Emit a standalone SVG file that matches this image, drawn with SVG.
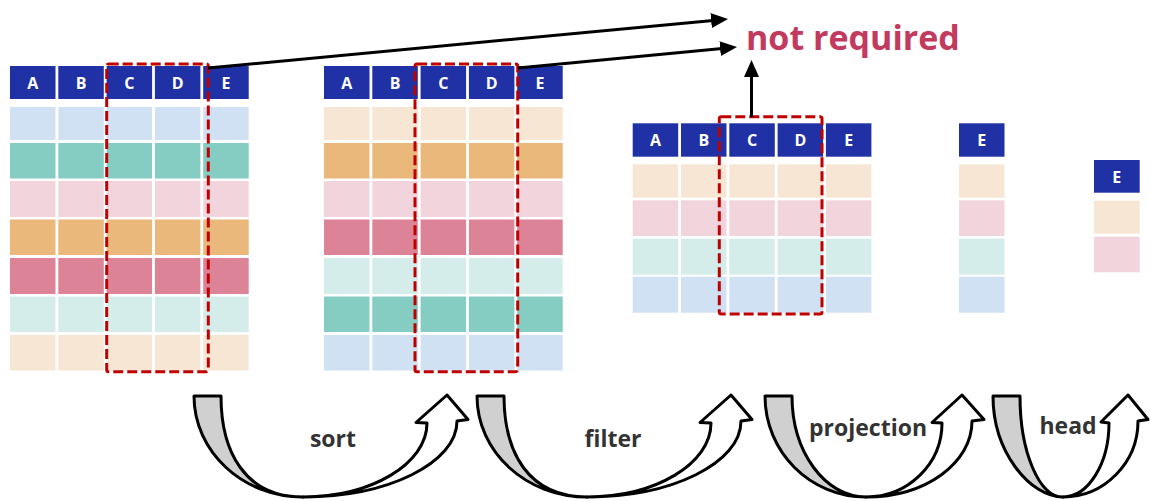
<svg xmlns="http://www.w3.org/2000/svg" width="1150" height="501" viewBox="0 0 1150 501">
<style>
.hd{fill:#1F31A4}
.ht{fill:#ffffff;font-family:"Open Sans","Liberation Sans",sans-serif;font-weight:bold;font-size:16px;text-anchor:middle}
.lb{fill:#D0E1F3}.tl{fill:#85CCC3}.lp{fill:#F2D4DC}.or{fill:#E9B87A}.ro{fill:#DC8398}.lt{fill:#D5EDEA}.pe{fill:#F8E6D4}
.sep{stroke:#ffffff;stroke-width:2.8}
.dash{fill:none;stroke:#C00000;stroke-width:3;stroke-dasharray:10 4}
.conn{stroke:#000000;stroke-width:3;fill:none}
.gray{fill:#D0D0D0;stroke:#000000;stroke-width:3;stroke-linejoin:round}
.white{fill:#ffffff;stroke:#000000;stroke-width:3;stroke-linejoin:round}
.lbl{fill:#333333;font-family:"Open Sans","Liberation Sans",sans-serif;font-weight:bold;font-size:23px;text-anchor:middle}
.nr{fill:#C23A5E;font-family:"Open Sans","Liberation Sans",sans-serif;font-weight:bold;font-size:34px}
</style>
<defs>
<marker id="ah" markerUnits="userSpaceOnUse" markerWidth="17" markerHeight="15" viewBox="0 0 17 15" refX="2" refY="7.5" orient="auto">
<path d="M0,0 L17,7.5 L0,15 Z" fill="#000000"/>
</marker>
</defs>

<!-- Table 1 -->
<g id="table1">
<rect class="hd" x="10" y="66" width="238.7" height="33"/>
<rect class="lb" x="10" y="107" width="238.7" height="33"/>
<rect class="tl" x="10" y="143" width="238.7" height="35.5"/>
<rect class="lp" x="10" y="181" width="238.7" height="36"/>
<rect class="or" x="10" y="219.5" width="238.7" height="35.5"/>
<rect class="ro" x="10" y="258" width="238.7" height="36"/>
<rect class="lt" x="10" y="296.5" width="238.7" height="35.5"/>
<rect class="pe" x="10" y="335" width="238.7" height="35.5"/>
<path class="sep" d="M56.9,60V375M105.2,60V375M153.5,60V375M201.8,60V375"/>
<text class="ht" x="32.75" y="88.5">A</text>
<text class="ht" x="81.05" y="88.5">B</text>
<text class="ht" x="129.35" y="88.5">C</text>
<text class="ht" x="177.65" y="88.5">D</text>
<text class="ht" x="225.95" y="88.5">E</text>
<rect class="dash" x="106.7" y="64" width="101.6" height="307.7" rx="2"/>
</g>

<!-- Table 2 -->
<g id="table2">
<rect class="hd" x="324" y="66" width="238.7" height="33"/>
<rect class="pe" x="324" y="107" width="238.7" height="33"/>
<rect class="or" x="324" y="143" width="238.7" height="35.5"/>
<rect class="lp" x="324" y="181" width="238.7" height="36"/>
<rect class="ro" x="324" y="219.5" width="238.7" height="35.5"/>
<rect class="lt" x="324" y="258" width="238.7" height="36"/>
<rect class="tl" x="324" y="296.5" width="238.7" height="35.5"/>
<rect class="lb" x="324" y="335" width="238.7" height="35.5"/>
<path class="sep" d="M370.9,60V375M419.2,60V375M467.5,60V375M515.8,60V375"/>
<text class="ht" x="346.75" y="88.5">A</text>
<text class="ht" x="395.05" y="88.5">B</text>
<text class="ht" x="443.35" y="88.5">C</text>
<text class="ht" x="491.65" y="88.5">D</text>
<text class="ht" x="539.95" y="88.5">E</text>
<rect class="dash" x="415" y="64" width="102.7" height="307.7" rx="2"/>
</g>

<!-- Table 3 -->
<g id="table3">
<rect class="hd" x="632.7" y="123.3" width="238.7" height="33.4"/>
<rect class="pe" x="632.7" y="164.3" width="238.7" height="33.4"/>
<rect class="lp" x="632.7" y="200.3" width="238.7" height="35.7"/>
<rect class="lt" x="632.7" y="238.7" width="238.7" height="36"/>
<rect class="lb" x="632.7" y="276.7" width="238.7" height="36"/>
<path class="sep" d="M679.6,118V318M727.9,118V318M776.2,118V318M824.5,118V318"/>
<text class="ht" x="655.45" y="146">A</text>
<text class="ht" x="703.75" y="146">B</text>
<text class="ht" x="752.05" y="146">C</text>
<text class="ht" x="800.35" y="146">D</text>
<text class="ht" x="848.65" y="146">E</text>
<rect class="dash" x="719.3" y="116.7" width="102.7" height="197.3" rx="2"/>
</g>

<!-- Table 4 -->
<g id="table4">
<rect class="hd" x="959" y="123.3" width="45.5" height="33.4"/>
<rect class="pe" x="959" y="164.3" width="45.5" height="33.4"/>
<rect class="lp" x="959" y="200.3" width="45.5" height="35.7"/>
<rect class="lt" x="959" y="238.7" width="45.5" height="36"/>
<rect class="lb" x="959" y="276.7" width="45.5" height="36"/>
<text class="ht" x="981.75" y="146">E</text>
</g>

<!-- Table 5 -->
<g id="table5">
<rect class="hd" x="1094" y="160" width="45.7" height="32.7"/>
<rect class="pe" x="1094" y="200.7" width="45.7" height="33"/>
<rect class="lp" x="1094" y="236.7" width="45.7" height="35.6"/>
<text class="ht" x="1116.85" y="182.5">E</text>
</g>

<!-- not required -->
<g id="not-required">
<text class="nr" x="746" y="50">not required</text>
</g>

<!-- Connectors -->
<g id="connectors">
<line class="conn" x1="208" y1="68" x2="713.1" y2="20.4" marker-end="url(#ah)"/>
<line class="conn" x1="518" y1="68" x2="722.1" y2="48.4" marker-end="url(#ah)"/>
<line class="conn" x1="751.5" y1="117" x2="751.5" y2="75" marker-end="url(#ah)"/>
</g>

<!-- Process arrows -->
<g id="step-sort">
<path class="white" d="M303,497 C388,497 457,463 457,421 L468,419.5 L447,395 L416,422.5 L427,423 C427,464 371,497 303,497 Z"/>
<path class="gray" d="M194,396 H221 C221,452 245,497 303,497 C243,497 194,452 194,396 Z"/>
<text class="lbl" x="333" y="447">sort</text>
</g>
<g id="step-filter">
<path class="white" d="M587,497 C672,497 741,463 741,421 L752,419.5 L731,395 L700,422.5 L711,423 C711,464 655,497 587,497 Z"/>
<path class="gray" d="M477,396 H504 C504,452 528,497 587,497 C526,497 477,452 477,396 Z"/>
<text class="lbl" x="613" y="447">filter</text>
</g>
<g id="step-projection">
<path class="white" d="M866,497 C926,497 972,463 972,421 L984,419.5 L962,395 L932,422.5 L942,423 C942,464 908,497 866,497 Z"/>
<path class="gray" d="M765,396 H792 C792,452 825,497 866,497 C810,497 765,452 765,396 Z"/>
<text class="lbl" x="868" y="436">projection</text>
</g>
<g id="step-head">
<path class="white" d="M1063,497 C1104,497 1138,463 1138,421 L1148,419.5 L1128,395 L1101,422 L1109,423 C1109,464 1088,497 1063,497 Z"/>
<path class="gray" d="M993,396 H1020 C1020,452 1039,497 1063,497 C1030,497 993,452 993,396 Z"/>
<text class="lbl" x="1068" y="434">head</text>
</g>
</svg>
